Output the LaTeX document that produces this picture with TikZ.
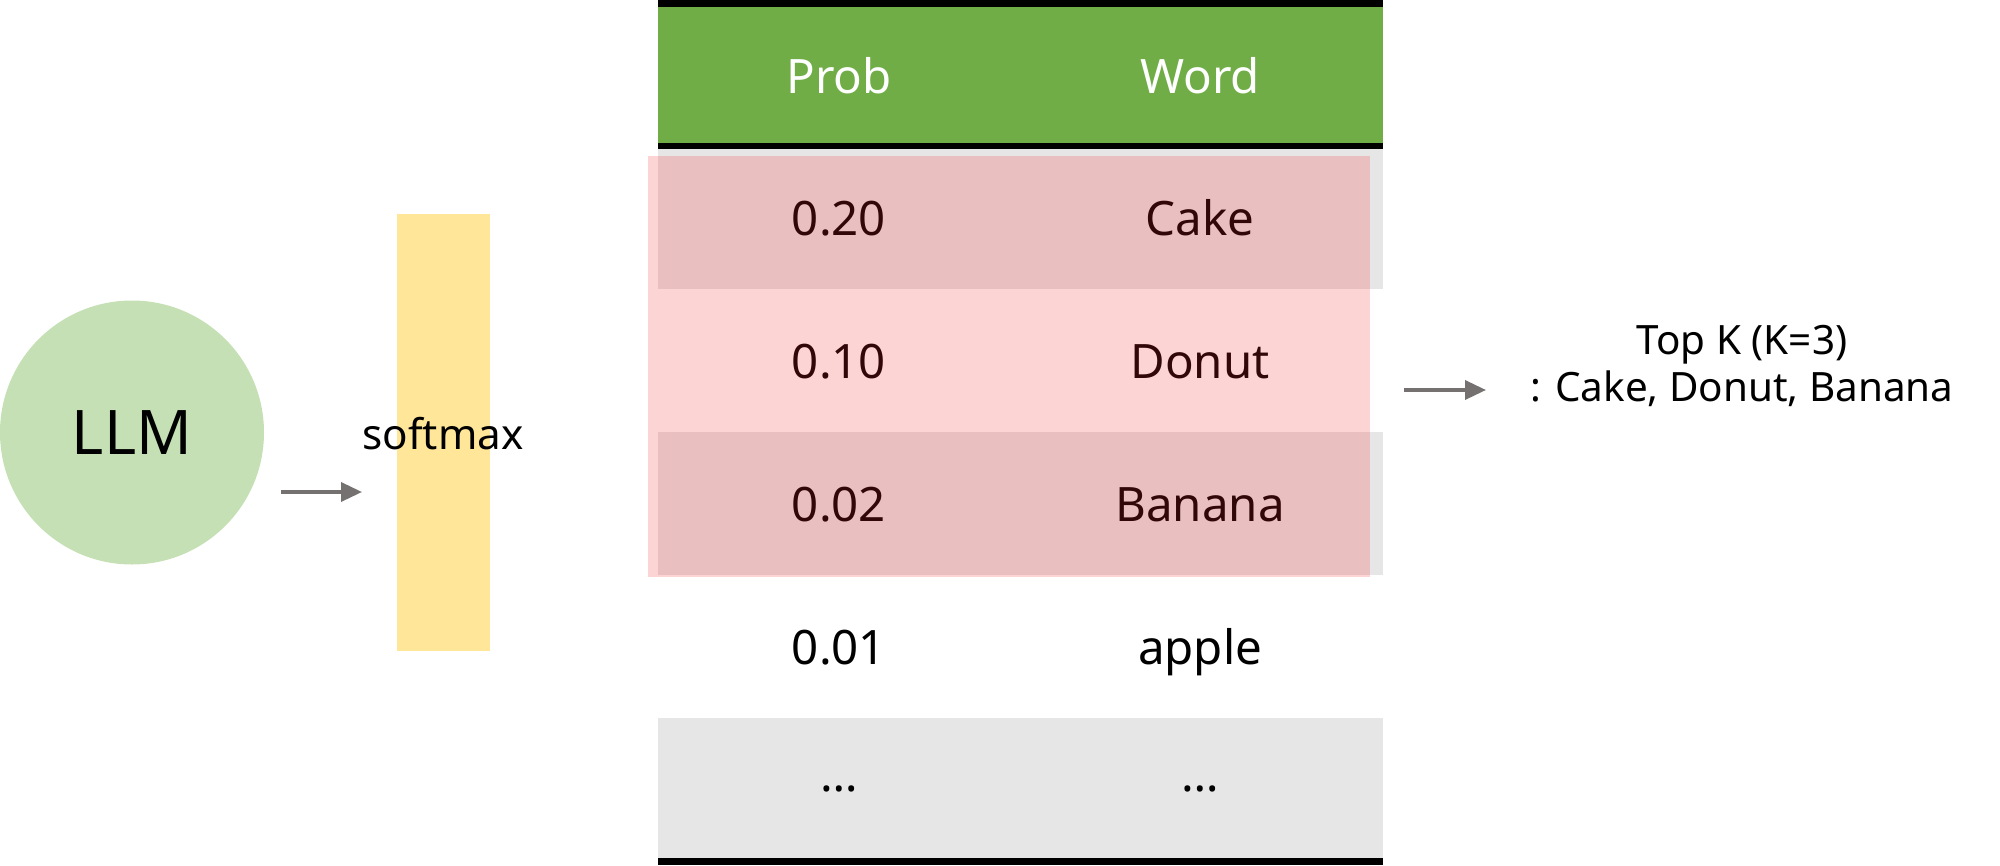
\documentclass[tikz,border=0pt]{standalone}
\usepackage{fontspec}
\setmainfont{Noto Sans}
\usetikzlibrary{arrows.meta}

\definecolor{hdgreen}{RGB}{112,173,71}
\definecolor{llmgreen}{RGB}{197,224,180}
\definecolor{baryellow}{RGB}{255,230,153}
\definecolor{rowgray}{RGB}{231,230,230}
\definecolor{pickred}{RGB}{245,38,42}
\definecolor{arrgray}{RGB}{118,113,113}

\begin{document}
\begin{tikzpicture}[every node/.style={inner sep=0pt, outer sep=0pt},
  cellrow/.style={minimum width=7.25cm, minimum height=1.43cm},
  celltext/.style={font=\fontsize{13.5}{16}\selectfont, text height=0.36cm, text depth=0pt},
  flowarrow/.style={draw=arrgray, line width=1pt, -{Triangle[length=0.21cm, width=0.19cm]}},
  rule/.style={line width=1.8pt}]
\useasboundingbox (0,0) rectangle (20,8.65);

\node[circle, fill=llmgreen, minimum size=2.64cm, font=\fontsize{17.5}{20}\selectfont] (llm) at (1.32,4.325) {LLM};
\node[fill=baryellow, minimum width=0.93cm, minimum height=4.37cm] (bar) at (4.435,4.325) {};
\node[font=\fontsize{12}{14}\selectfont] (softmax) at (4.43,4.31) {softmax};

\node[cellrow, fill=rowgray] (row1) at (10.205,6.475) {};
\node[cellrow, fill=rowgray] (row3) at (10.205,3.615) {};
\node[cellrow, fill=rowgray] (row5) at (10.205,0.755) {};

\node[celltext] (prob1) at (8.39,6.475) {0.20};
\node[celltext] (word1) at (12.00,6.475) {Cake};
\node[celltext] (prob2) at (8.39,5.045) {0.10};
\node[celltext] (word2) at (12.00,5.045) {Donut};
\node[celltext] (prob3) at (8.39,3.615) {0.02};
\node[celltext] (word3) at (12.00,3.615) {Banana};
\node[celltext] (prob4) at (8.39,2.185) {0.01};
\node[celltext] (word4) at (12.00,2.185) {apple};
\node[celltext, yshift=0.16cm] (prob5) at (8.39,0.755) {…};
\node[celltext, yshift=0.16cm] (word5) at (12.00,0.755) {…};

\node[fill=pickred, fill opacity=0.2, minimum width=7.22cm, minimum height=4.21cm] (topband) at (10.09,4.985) {};

\node[fill=hdgreen, minimum width=7.25cm, minimum height=1.425cm] (head) at (10.205,7.9025) {};
\node[celltext, text=white] (hprob) at (8.39,7.90) {Prob};
\node[celltext, text=white] (hword) at (12.00,7.90) {Word};

\draw[rule] (head.north west) -- (head.north east);
\draw[rule] (head.south west) -- (head.south east);
\draw[rule] (row5.south west) ++(0,-0.005) -- ([yshift=-0.005cm]row5.south east);

\coordinate (llmout) at (2.81,3.73);
\coordinate (barin) at (3.62,3.73);
\draw[flowarrow] (llmout) -- (barin);

\coordinate (tblout) at (14.04,4.75);
\coordinate (topkin) at (14.86,4.75);
\draw[flowarrow] (tblout) -- (topkin);

\node[align=center, font=\fontsize{11.5}{13.5}\selectfont] (topk) at (17.42,4.99) {Top K (K=3)\\: Cake, Donut, Banana};
\end{tikzpicture}
\end{document}
